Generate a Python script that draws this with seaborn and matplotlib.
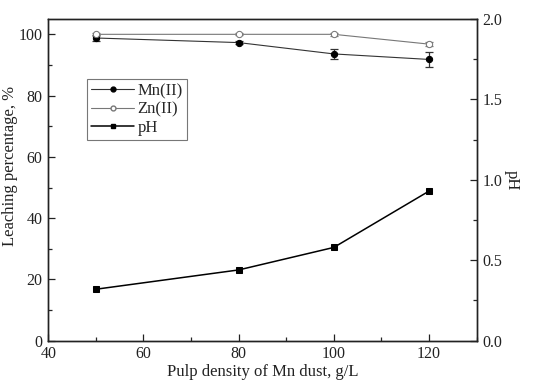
import matplotlib
matplotlib.use("Agg")
import matplotlib.pyplot as plt
import seaborn as sns
import numpy as np
import pandas as pd
from matplotlib.lines import Line2D
from matplotlib.ticker import MultipleLocator, FormatStrFormatter

# Data
pulp_density = [50, 80, 100, 120]
mn_leach = [98.8, 97.3, 93.6, 91.8]
mn_err = [1.0, 0.6, 1.6, 2.4]
zn_leach = [100.0, 100.0, 100.0, 96.8]
zn_err = [0.4, 0.3, 0.5, 0.6]
ph_vals = [0.32, 0.44, 0.58, 0.93]

sns.set_theme(style="ticks")
plt.rcParams['font.family'] = ['Liberation Serif', 'DejaVu Serif']

fig = plt.figure(figsize=(5.33, 3.80), dpi=100)
ax = fig.add_axes([0.0906, 0.1034, 0.8036, 0.8466])
ax2 = ax.twinx()

df = pd.DataFrame({"x": pulp_density, "mn": mn_leach, "zn": zn_leach, "ph": ph_vals})

mn_col = "#333333"
zn_col = "#777777"

ax.errorbar(pulp_density, mn_leach, yerr=mn_err, fmt="none", ecolor=mn_col,
            elinewidth=0.9, capsize=3, capthick=0.9, zorder=2)
ax.errorbar(pulp_density, zn_leach, yerr=zn_err, fmt="none", ecolor=zn_col,
            elinewidth=0.9, capsize=3, capthick=0.9, zorder=2)
sns.lineplot(data=df, x="x", y="mn", ax=ax, color=mn_col, lw=0.8, marker="o",
             markersize=4.5, markerfacecolor="black", markeredgecolor="black", zorder=3)
sns.lineplot(data=df, x="x", y="zn", ax=ax, color=zn_col, lw=0.8, marker="o",
             markersize=4.5, markerfacecolor="white", markeredgecolor=zn_col, zorder=3)
sns.lineplot(data=df, x="x", y="ph", ax=ax2, color="black", lw=1.1, marker="s",
             markersize=4, markerfacecolor="black", markeredgecolor="black", zorder=3)

ax.set_xlim(40, 130)
ax.set_ylim(0, 105)
ax2.set_ylim(0, 2.0)
ax.xaxis.set_major_locator(MultipleLocator(20))
ax.xaxis.set_minor_locator(MultipleLocator(10))
ax.yaxis.set_major_locator(MultipleLocator(20))
ax.yaxis.set_minor_locator(MultipleLocator(10))
ax2.yaxis.set_major_locator(MultipleLocator(0.5))
ax2.yaxis.set_minor_locator(MultipleLocator(0.25))
ax2.yaxis.set_major_formatter(FormatStrFormatter("%.1f"))

for a in (ax, ax2):
    a.tick_params(which="major", direction="in", length=5, width=0.9, labelsize=11.5,
                  colors="#222222", pad=4)
    a.tick_params(which="minor", direction="in", length=3, width=0.9)
    for s in a.spines.values():
        s.set_visible(True)
        s.set_linewidth(1.0)
        s.set_color("#222222")
ax.tick_params(axis="y", which="both", right=False)
ax2.tick_params(axis="y", which="both", left=False)

ax.set_xlabel("Pulp density of Mn dust, g/L", fontsize=12, labelpad=1, color="#222222")
ax.set_ylabel("Leaching percentage, %", fontsize=12, color="#222222")
ax.yaxis.set_label_coords(-0.07, 0.543)
ax2.set_ylabel("pH", fontsize=12, rotation=270, labelpad=13, color="#222222")

handles = [
    Line2D([], [], color=mn_col, lw=0.8, marker="o", markersize=3.5,
           markerfacecolor="black", markeredgecolor="black"),
    Line2D([], [], color=zn_col, lw=0.8, marker="o", markersize=3.5,
           markerfacecolor="white", markeredgecolor=zn_col),
    Line2D([], [], color="black", lw=1.1, marker="s", markersize=3.5,
           markerfacecolor="black", markeredgecolor="black"),
]
leg = ax2.legend(handles, ["Mn(II)", "Zn(II)", "pH"], loc="upper left",
                 bbox_to_anchor=(0.09, 0.813), fontsize=12, frameon=True,
                 fancybox=False, edgecolor="#555555", handlelength=2.6,
                 handletextpad=0.2, borderpad=0.25, labelspacing=0.15,
                 borderaxespad=0)
leg.get_frame().set_linewidth(0.8)

fig.savefig("out.png", dpi=100)
